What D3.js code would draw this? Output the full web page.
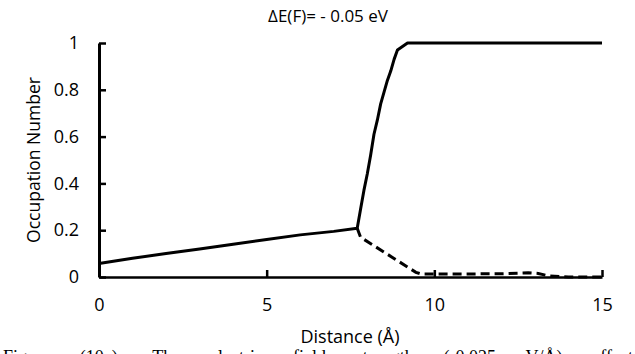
<!DOCTYPE html>
<html>
<head>
<meta charset="utf-8">
<script src="https://cdn.jsdelivr.net/npm/d3@7"></script>
<style>
  body { margin: 0; background: #fff; overflow: hidden; }
  svg { display: block; }
</style>
</head>
<body>
<div id="chart"></div>
<script>
// chart values
const solidX = [0, 1, 2, 3, 4, 5, 6, 7, 7.7, 7.8, 7.9, 8.0, 8.1, 8.2, 8.3, 8.4, 8.5, 8.6, 8.7, 8.8, 8.9, 9.2, 10, 11, 12, 13, 14, 15];
const solidY = [0.058, 0.08, 0.10, 0.12, 0.14, 0.16, 0.18, 0.195, 0.208, 0.29, 0.37, 0.44, 0.52, 0.61, 0.67, 0.74, 0.79, 0.84, 0.88, 0.93, 0.97, 1, 1, 1, 1, 1, 1, 1];

const dashX = [7.7, 7.8, 9.45, 9.6, 10, 11, 12, 12.8, 13.1, 13.4, 14, 15];
const dashY = [0.208, 0.17, 0.02, 0.013, 0.013, 0.013, 0.014, 0.018, 0.015, 0.005, 0, 0];

const xTicks = [0, 5, 10, 15];
const yTicks = [0, 0.2, 0.4, 0.6, 0.8, 1];

const titleText = 'ΔE(F)= - 0.05 eV';
const xLabel = 'Distance (Å)';
const yLabel = 'Occupation Number';
const captionText = 'Figure (10a): The electric field strength (-0.025 V/Å) effect';

const width = 635, height = 354;
const margin = { left: 99, right: 33, top: 43, bottom: 77 };

const svg = d3.select('#chart').append('svg').attr('width', width).attr('height', height);

const x = d3.scaleLinear().domain([0, 15]).range([margin.left, width - margin.right]);
const y = d3.scaleLinear().domain([0, 1]).range([height - margin.bottom, margin.top]);

const font = 'Open Sans, sans-serif';

// axes - ticks point inwards
svg.append('g')
  .attr('transform', `translate(0,${y(0)})`)
  .call(d3.axisBottom(x).tickValues(xTicks).tickSizeInner(-7).tickSizeOuter(0).tickPadding(21))
  .call(g => g.select('.domain').attr('stroke-width', 2.5))
  .call(g => g.selectAll('.tick line').attr('stroke-width', 2.5))
  .call(g => g.selectAll('text').attr('font-family', font).attr('font-size', 18).attr('fill', '#000'));

svg.append('g')
  .attr('transform', `translate(${x(0)},0)`)
  .call(d3.axisLeft(y).tickValues(yTicks).tickFormat(d3.format('')).tickSizeInner(-7).tickSizeOuter(0).tickPadding(20))
  .call(g => g.select('.domain').attr('stroke-width', 3))
  .call(g => g.selectAll('.tick line').attr('stroke-width', 2.5))
  .call(g => g.selectAll('text').attr('font-family', font).attr('font-size', 18).attr('fill', '#000'));

const line = d3.line().x(d => x(d[0])).y(d => y(d[1]));

svg.append('path')
  .datum(d3.zip(dashX, dashY))
  .attr('d', line)
  .attr('fill', 'none')
  .attr('stroke', '#000')
  .attr('stroke-width', 3)
  .attr('stroke-dasharray', '9,5');

svg.append('path')
  .datum(d3.zip(solidX, solidY))
  .attr('d', line)
  .attr('fill', 'none')
  .attr('stroke', '#000')
  .attr('stroke-width', 3)
  .attr('stroke-linejoin', 'round');

// texts
svg.append('text')
  .attr('x', 328).attr('y', 22)
  .attr('text-anchor', 'middle')
  .attr('font-family', font).attr('font-size', 17)
  .text(titleText);

svg.append('text')
  .attr('x', 350).attr('y', 343)
  .attr('text-anchor', 'middle')
  .attr('font-family', font).attr('font-size', 18)
  .text(xLabel);

svg.append('text')
  .attr('transform', `translate(40,${(y(0) + y(1)) / 2}) rotate(-90)`)
  .attr('text-anchor', 'middle')
  .attr('font-family', font).attr('font-size', 17.5)
  .text(yLabel);

// caption of the page below, only its top shows; justified to the full width
const caption = svg.append('text')
  .attr('x', 3).attr('y', 363)
  .attr('font-family', 'Liberation Serif, serif').attr('font-size', 18)
  .text(captionText);
const spaces = captionText.split(' ').length - 1;
const extra = (width - 5 - caption.node().getComputedTextLength()) / spaces;
caption.attr('word-spacing', Math.max(0, extra));
</script>
</body>
</html>
